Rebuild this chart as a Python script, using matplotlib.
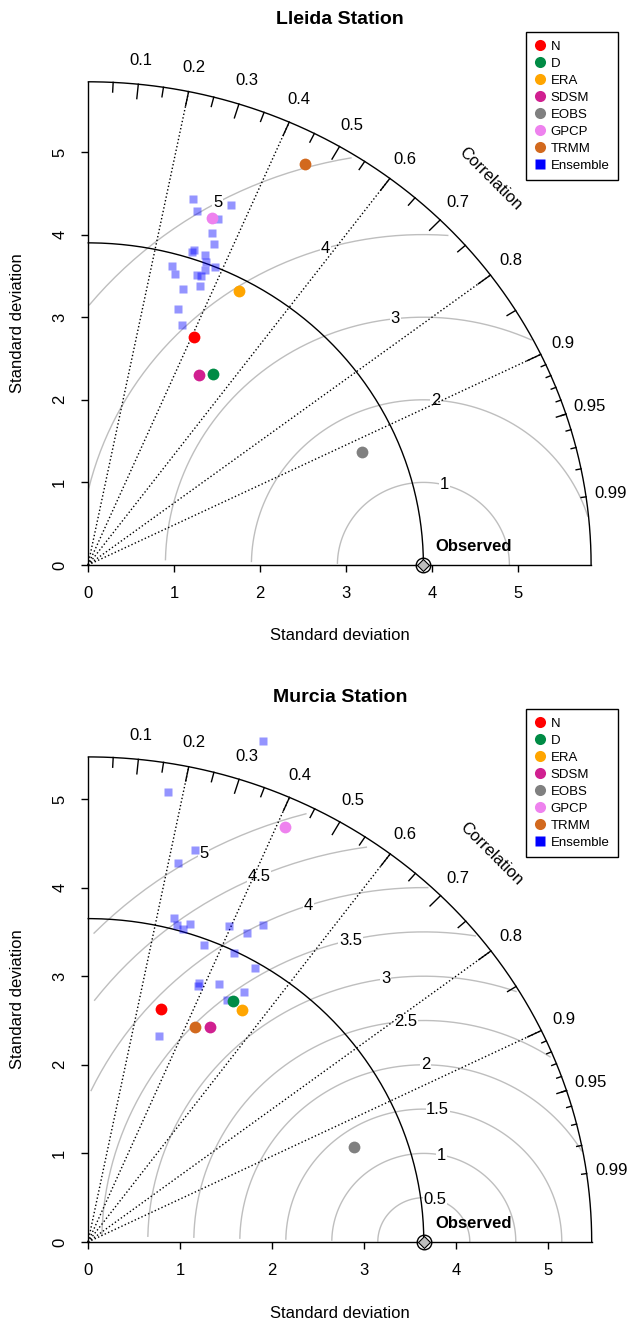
import numpy as np
import matplotlib.pyplot as plt
from matplotlib.lines import Line2D

plt.rcParams['font.family'] = ['Liberation Sans', 'DejaVu Sans']
plt.rcParams['font.size'] = 12

FIG_W, FIG_H = 629, 1322

model_names = ['N', 'D', 'ERA', 'SDSM', 'EOBS', 'GPCP', 'TRMM']
model_colors = ['#ff0000', '#008b45', '#ffa500', '#d02090', '#808080', '#ee82ee', '#d2691e']
ens_color = '#0000ff'

# Lleida station
lleida_obs_sd = 3.9
lleida_sd = [3.03, 2.73, 3.76, 2.64, 3.47, 4.44, 5.47]
lleida_cor = [0.408, 0.533, 0.468, 0.488, 0.919, 0.326, 0.461]
lleida_ens_sd = [4.60, 4.47, 4.66, 4.46, 4.27, 4.16, 4.01, 3.98, 3.99, 3.91,
                 3.90, 3.75, 3.67, 3.82, 3.73, 3.74, 3.62, 3.52, 3.27, 3.11]
lleida_ens_cor = [0.265, 0.283, 0.357, 0.340, 0.338, 0.353, 0.306, 0.305, 0.342, 0.350,
                  0.378, 0.261, 0.275, 0.357, 0.339, 0.352, 0.361, 0.315, 0.321, 0.353]
lleida_gamma = [1, 2, 3, 4, 5]

# Murcia station
murcia_obs_sd = 3.65
murcia_sd = [2.742, 3.146, 3.109, 2.767, 3.083, 5.147, 2.689]
murcia_cor = [0.288, 0.501, 0.537, 0.480, 0.937, 0.415, 0.434]
murcia_ens_sd = [5.970, 5.157, 4.574, 4.391, 3.775, 3.711, 3.754, 3.678, 3.882, 3.891,
                 4.055, 3.580, 3.628, 3.584, 3.160, 3.125, 3.239, 3.292, 3.122, 2.448]
murcia_ens_cor = [0.319, 0.169, 0.254, 0.223, 0.248, 0.262, 0.295, 0.282, 0.395, 0.445,
                  0.469, 0.353, 0.437, 0.507, 0.382, 0.381, 0.440, 0.515, 0.485, 0.317]
murcia_gamma = [0.5, 1, 1.5, 2, 2.5, 3, 3.5, 4, 4.5, 5]


def fmt(v):
    return f'{v:g}'


def taylor_panel(fig, x0, y0, sx, sy, obs_sd, sd, cor, ens_sd, ens_cor, gammas, title):
    """x0, y0: pixel position of the origin, sx, sy: pixels per sd unit"""
    maxsd = 1.5 * obs_sd
    ax = fig.add_axes([x0 / FIG_W, (FIG_H - y0) / FIG_H,
                       maxsd * sx / FIG_W, maxsd * sy / FIG_H])
    ax.set_xlim(0, maxsd)
    ax.set_ylim(0, maxsd)
    ax.patch.set_visible(False)
    for side in ['top', 'right']:
        ax.spines[side].set_visible(False)
    for side in ['left', 'bottom']:
        ax.spines[side].set_linewidth(1.0)
    ax.set_xticks(range(6))
    ax.set_yticks(range(6))
    ax.tick_params(direction='out', length=5, width=1.0, pad=10, labelsize=12)
    for lab in ax.get_yticklabels():
        lab.set_rotation(90)
        lab.set_va('center')

    # centred rms arcs around the observed point
    t = np.arange(0, np.pi, 0.03)
    labelpos = np.floor(np.linspace(45, 70, len(gammas))).astype(int) - 1
    for g, lp in zip(gammas, labelpos):
        xc = np.cos(t) * g + obs_sd
        yc = np.sin(t) * g
        neg = np.where(xc < 0)[0]
        end = neg.min() if len(neg) else len(t)
        out = np.where(xc ** 2 + yc ** 2 > maxsd ** 2)[0]
        start = out.max() + 1 if len(out) else 0
        ax.plot(xc[start:end], yc[start:end], color='#bebebe', lw=1.0, clip_on=False, zorder=1)
        if xc[lp] > 0:
            ax.text(xc[lp], yc[lp], fmt(g), ha='center', va='center', fontsize=12, zorder=2,
                    bbox=dict(fc='white', ec='none', pad=0.5))

    # sd arcs
    a = np.arange(0, np.pi / 2, 0.01)
    ax.plot(np.cos(a) * maxsd, np.sin(a) * maxsd, color='k', lw=1.0, clip_on=False, zorder=3)
    ax.plot(np.cos(a) * obs_sd, np.sin(a) * obs_sd, color='k', lw=1.0, clip_on=False, zorder=3)

    # correlation rays
    for c in [0.2, 0.4, 0.6, 0.8, 0.9]:
        ax.plot([0, maxsd * c], [0, maxsd * np.sqrt(1 - c ** 2)], color='k', ls=':', lw=1.0,
                clip_on=False, zorder=3)

    # correlation ticks on the outer arc
    big = np.arange(1, 10) / 10
    med = np.arange(0.05, 0.96, 0.1)
    sml = np.arange(91, 100) / 100
    for vals, frac in [(big, 0.97), (med, 0.98), (sml, 0.99)]:
        ang = np.arccos(vals)
        for aa in ang:
            ax.plot([np.cos(aa) * maxsd, np.cos(aa) * frac * maxsd],
                    [np.sin(aa) * maxsd, np.sin(aa) * frac * maxsd],
                    color='k', lw=1.0, clip_on=False, zorder=3)
    for c in list(big) + [0.95, 0.99]:
        aa = np.arccos(c)
        ax.text(np.cos(aa) * 1.05 * maxsd, np.sin(aa) * 1.05 * maxsd, fmt(round(c, 2)),
                ha='center', va='center', fontsize=12)
    ax.text(0.8 * maxsd, 0.8 * maxsd, 'Correlation', rotation=-45,
            ha='center', va='center', fontsize=12)

    # ensemble members and models
    ens_sd = np.array(ens_sd)
    ens_cor = np.array(ens_cor)
    ax.plot(ens_sd * ens_cor, ens_sd * np.sqrt(1 - ens_cor ** 2), 's', color=ens_color,
            alpha=0.42, ms=5.8, mec='none', clip_on=False, zorder=4)
    for s, c, col in zip(sd, cor, model_colors):
        ax.plot(s * c, s * np.sqrt(1 - c ** 2), 'o', color=col, ms=8.5, mec='none',
                clip_on=False, zorder=5)

    # observed reference
    ax.plot(obs_sd, 0, 'o', mfc='none', mec='k', ms=10.5, mew=1.0, clip_on=False, zorder=6)
    ax.plot(obs_sd, 0, 'D', mfc='#bebebe', mec='k', ms=6.5, mew=0.8, clip_on=False, zorder=6)
    ax.annotate('Observed', (obs_sd, 0), xytext=(12, 18), textcoords='offset pixels',
                ha='left', va='center', fontsize=12, fontweight='bold')

    # titles and axis labels
    cx = x0 + maxsd * sx / 2
    fig.text(cx / FIG_W, 1 - (y0 - 545) / FIG_H, title, ha='center', va='center',
             fontsize=14, fontweight='bold')
    fig.text(cx / FIG_W, 1 - (y0 + 71) / FIG_H, 'Standard deviation',
             ha='center', va='center', fontsize=12)
    fig.text(18 / FIG_W, 1 - (y0 - maxsd * sy / 2) / FIG_H, 'Standard deviation',
             ha='center', va='center', rotation=90, fontsize=12)

    # legend box
    handles = [Line2D([], [], ls='none', marker='o', color=col, ms=8, mec='none')
               for col in model_colors]
    handles.append(Line2D([], [], ls='none', marker='s', color=ens_color, ms=7, mec='none'))
    leg = fig.legend(handles, model_names + ['Ensemble'], loc='upper left',
                     bbox_to_anchor=(526 / FIG_W, 1 - (y0 - 533) / FIG_H),
                     borderaxespad=0, frameon=True, fancybox=False, framealpha=1,
                     edgecolor='k', fontsize=9.5, labelspacing=0.36, handlelength=0.8,
                     handletextpad=0.4, borderpad=0.65)
    leg.get_frame().set_linewidth(1.0)
    return ax


fig = plt.figure(figsize=(FIG_W / 100, FIG_H / 100), dpi=100)

taylor_panel(fig, 88, 565, 86, 82.6, lleida_obs_sd, lleida_sd, lleida_cor,
             lleida_ens_sd, lleida_ens_cor, lleida_gamma, 'Lleida Station')
taylor_panel(fig, 88, 1242, 92, 88.6, murcia_obs_sd, murcia_sd, murcia_cor,
             murcia_ens_sd, murcia_ens_cor, murcia_gamma, 'Murcia Station')

fig.savefig('out.png', dpi=100)
